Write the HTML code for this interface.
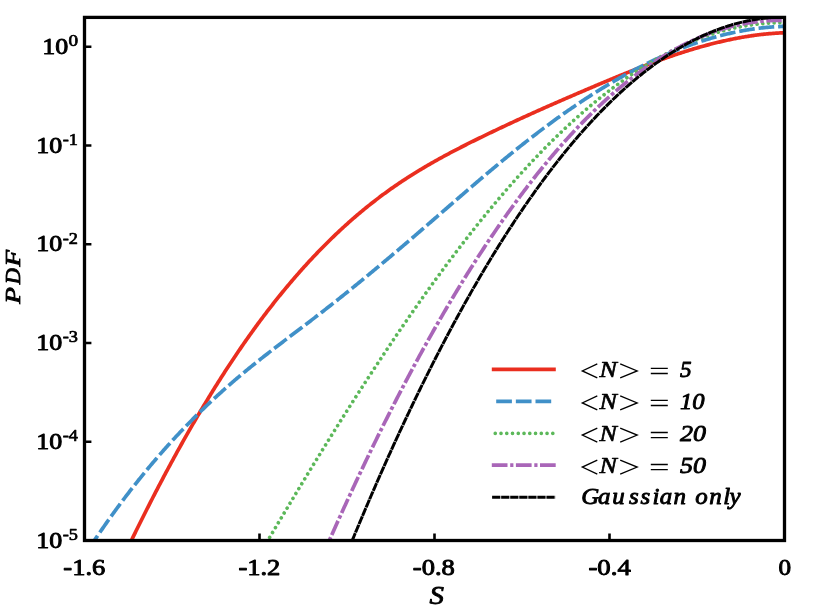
<!DOCTYPE html>
<html>
<head>
<meta charset="utf-8">
<title>PDF of S</title>
<style>
html,body{margin:0;padding:0;background:#fff;}
body{width:814px;height:610px;overflow:hidden;font-family:"Liberation Serif",serif;}
svg{display:block;will-change:transform;}
text{font-family:"Liberation Serif",serif;fill:#000;}
.tk{font-weight:normal;font-size:22.3px;stroke:#000;stroke-width:0.9px;stroke-linejoin:round;}
.sup{font-weight:normal;font-size:16.6px;stroke:#000;stroke-width:0.7px;stroke-linejoin:round;}
.lg{font-weight:normal;font-style:italic;font-size:22.3px;stroke:#000;stroke-width:0.85px;stroke-linejoin:round;}
.crv{fill:none;stroke-linejoin:round;}
</style>
</head>
<body>
<svg width="814" height="610" viewBox="0 0 814 610">
<rect x="0" y="0" width="814" height="610" fill="#ffffff"/>
<defs><clipPath id="ax"><rect x="84.5" y="17.4" width="700" height="523.1"/></clipPath></defs>
<g clip-path="url(#ax)">
<path class="crv" d="M129.0,545.42 L130.0,543.35 L131.0,541.29 L132.0,539.23 L133.0,537.18 L134.0,535.14 L135.0,533.10 L136.0,531.06 L137.0,529.03 L138.0,527.01 L139.0,524.99 L140.0,522.97 L141.0,520.96 L142.0,518.96 L143.0,516.96 L144.0,514.97 L145.0,512.98 L146.0,511.00 L147.0,509.02 L148.0,507.05 L149.0,505.09 L150.0,503.12 L151.0,501.17 L152.0,499.22 L153.0,497.27 L154.0,495.34 L155.0,493.40 L156.0,491.47 L157.0,489.55 L158.0,487.63 L159.0,485.72 L160.0,483.81 L161.0,481.91 L162.0,480.02 L163.0,478.12 L164.0,476.24 L165.0,474.36 L166.0,472.48 L167.0,470.62 L168.0,468.75 L169.0,466.89 L170.0,465.04 L171.0,463.19 L172.0,461.35 L173.0,459.52 L174.0,457.68 L175.0,455.86 L176.0,454.04 L177.0,452.22 L178.0,450.42 L179.0,448.61 L180.0,446.81 L181.0,445.02 L182.0,443.23 L183.0,441.45 L184.0,439.68 L185.0,437.90 L186.0,436.14 L187.0,434.38 L188.0,432.62 L189.0,430.88 L190.0,429.13 L191.0,427.39 L192.0,425.66 L193.0,423.94 L194.0,422.21 L195.0,420.50 L196.0,418.79 L197.0,417.08 L198.0,415.39 L199.0,413.69 L200.0,412.00 L201.0,410.32 L202.0,408.64 L203.0,406.97 L204.0,405.31 L205.0,403.65 L206.0,401.99 L207.0,400.34 L208.0,398.70 L209.0,397.06 L210.0,395.43 L211.0,393.80 L212.0,392.18 L213.0,390.57 L214.0,388.96 L215.0,387.35 L216.0,385.75 L217.0,384.16 L218.0,382.57 L219.0,380.99 L220.0,379.42 L221.0,377.84 L222.0,376.28 L223.0,374.72 L224.0,373.17 L225.0,371.62 L226.0,370.08 L227.0,368.54 L228.0,367.01 L229.0,365.48 L230.0,363.96 L231.0,362.45 L232.0,360.94 L233.0,359.44 L234.0,357.94 L235.0,356.45 L236.0,354.96 L237.0,353.48 L238.0,352.01 L239.0,350.54 L240.0,349.08 L241.0,347.62 L242.0,346.17 L243.0,344.72 L244.0,343.28 L245.0,341.85 L246.0,340.42 L247.0,339.00 L248.0,337.58 L249.0,336.17 L250.0,334.76 L251.0,333.36 L252.0,331.97 L253.0,330.58 L254.0,329.20 L255.0,327.82 L256.0,326.45 L257.0,325.08 L258.0,323.72 L259.0,322.37 L260.0,321.02 L261.0,319.68 L262.0,318.34 L263.0,317.01 L264.0,315.68 L265.0,314.36 L266.0,313.05 L267.0,311.74 L268.0,310.44 L269.0,309.14 L270.0,307.84 L271.0,306.56 L272.0,305.28 L273.0,304.00 L274.0,302.73 L275.0,301.46 L276.0,300.20 L277.0,298.95 L278.0,297.70 L279.0,296.46 L280.0,295.22 L281.0,293.99 L282.0,292.76 L283.0,291.54 L284.0,290.32 L285.0,289.11 L286.0,287.90 L287.0,286.70 L288.0,285.51 L289.0,284.32 L290.0,283.13 L291.0,281.96 L292.0,280.78 L293.0,279.61 L294.0,278.45 L295.0,277.29 L296.0,276.14 L297.0,274.99 L298.0,273.85 L299.0,272.71 L300.0,271.58 L301.0,270.45 L302.0,269.33 L303.0,268.22 L304.0,267.10 L305.0,266.00 L306.0,264.90 L307.0,263.80 L308.0,262.71 L309.0,261.62 L310.0,260.54 L311.0,259.47 L312.0,258.40 L313.0,257.33 L314.0,256.27 L315.0,255.22 L316.0,254.17 L317.0,253.12 L318.0,252.08 L319.0,251.05 L320.0,250.02 L321.0,248.99 L322.0,247.97 L323.0,246.95 L324.0,245.94 L325.0,244.94 L326.0,243.94 L327.0,242.94 L328.0,241.95 L329.0,240.96 L330.0,239.98 L331.0,239.01 L332.0,238.03 L333.0,237.07 L334.0,236.10 L335.0,235.15 L336.0,234.19 L337.0,233.25 L338.0,232.30 L339.0,231.37 L340.0,230.43 L341.0,229.50 L342.0,228.58 L343.0,227.66 L344.0,226.75 L345.0,225.84 L346.0,224.93 L347.0,224.03 L348.0,223.13 L349.0,222.24 L350.0,221.36 L351.0,220.47 L352.0,219.60 L353.0,218.72 L354.0,217.85 L355.0,216.99 L356.0,216.13 L357.0,215.28 L358.0,214.43 L359.0,213.58 L360.0,212.74 L361.0,211.90 L362.0,211.07 L363.0,210.24 L364.0,209.42 L365.0,208.60 L366.0,207.79 L367.0,206.98 L368.0,206.17 L369.0,205.37 L370.0,204.58 L371.0,203.78 L372.0,202.99 L373.0,202.21 L374.0,201.43 L375.0,200.66 L376.0,199.89 L377.0,199.12 L378.0,198.36 L379.0,197.60 L380.0,196.85 L381.0,196.10 L382.0,195.35 L383.0,194.61 L384.0,193.88 L385.0,193.15 L386.0,192.42 L387.0,191.69 L388.0,190.97 L389.0,190.26 L390.0,189.55 L391.0,188.84 L392.0,188.14 L393.0,187.44 L394.0,186.74 L395.0,186.05 L396.0,185.36 L397.0,184.68 L398.0,184.00 L399.0,183.32 L400.0,182.65 L401.0,181.98 L402.0,181.32 L403.0,180.66 L404.0,180.00 L405.0,179.34 L406.0,178.69 L407.0,178.04 L408.0,177.40 L409.0,176.76 L410.0,176.12 L411.0,175.49 L412.0,174.86 L413.0,174.23 L414.0,173.61 L415.0,172.99 L416.0,172.37 L417.0,171.75 L418.0,171.14 L419.0,170.53 L420.0,169.93 L421.0,169.33 L422.0,168.73 L423.0,168.13 L424.0,167.54 L425.0,166.94 L426.0,166.36 L427.0,165.77 L428.0,165.19 L429.0,164.61 L430.0,164.03 L431.0,163.46 L432.0,162.88 L433.0,162.31 L434.0,161.75 L435.0,161.18 L436.0,160.62 L437.0,160.06 L438.0,159.50 L439.0,158.95 L440.0,158.40 L441.0,157.85 L442.0,157.30 L443.0,156.75 L444.0,156.21 L445.0,155.67 L446.0,155.13 L447.0,154.59 L448.0,154.06 L449.0,153.52 L450.0,152.99 L451.0,152.46 L452.0,151.93 L453.0,151.41 L454.0,150.88 L455.0,150.36 L456.0,149.84 L457.0,149.32 L458.0,148.81 L459.0,148.29 L460.0,147.78 L461.0,147.26 L462.0,146.75 L463.0,146.24 L464.0,145.74 L465.0,145.23 L466.0,144.73 L467.0,144.22 L468.0,143.72 L469.0,143.22 L470.0,142.72 L471.0,142.22 L472.0,141.72 L473.0,141.23 L474.0,140.73 L475.0,140.24 L476.0,139.75 L477.0,139.25 L478.0,138.76 L479.0,138.27 L480.0,137.79 L481.0,137.30 L482.0,136.81 L483.0,136.32 L484.0,135.84 L485.0,135.35 L486.0,134.87 L487.0,134.39 L488.0,133.90 L489.0,133.42 L490.0,132.94 L491.0,132.46 L492.0,131.98 L493.0,131.51 L494.0,131.03 L495.0,130.55 L496.0,130.08 L497.0,129.60 L498.0,129.13 L499.0,128.65 L500.0,128.18 L501.0,127.71 L502.0,127.24 L503.0,126.77 L504.0,126.30 L505.0,125.83 L506.0,125.36 L507.0,124.89 L508.0,124.43 L509.0,123.96 L510.0,123.50 L511.0,123.03 L512.0,122.57 L513.0,122.10 L514.0,121.64 L515.0,121.18 L516.0,120.72 L517.0,120.26 L518.0,119.80 L519.0,119.34 L520.0,118.88 L521.0,118.42 L522.0,117.97 L523.0,117.51 L524.0,117.05 L525.0,116.60 L526.0,116.14 L527.0,115.69 L528.0,115.24 L529.0,114.78 L530.0,114.33 L531.0,113.88 L532.0,113.43 L533.0,112.98 L534.0,112.53 L535.0,112.08 L536.0,111.63 L537.0,111.18 L538.0,110.74 L539.0,110.29 L540.0,109.84 L541.0,109.40 L542.0,108.95 L543.0,108.51 L544.0,108.06 L545.0,107.62 L546.0,107.18 L547.0,106.73 L548.0,106.29 L549.0,105.85 L550.0,105.41 L551.0,104.97 L552.0,104.53 L553.0,104.09 L554.0,103.65 L555.0,103.21 L556.0,102.77 L557.0,102.34 L558.0,101.90 L559.0,101.46 L560.0,101.03 L561.0,100.59 L562.0,100.16 L563.0,99.72 L564.0,99.29 L565.0,98.85 L566.0,98.42 L567.0,97.99 L568.0,97.55 L569.0,97.12 L570.0,96.69 L571.0,96.26 L572.0,95.83 L573.0,95.39 L574.0,94.96 L575.0,94.53 L576.0,94.10 L577.0,93.67 L578.0,93.25 L579.0,92.82 L580.0,92.39 L581.0,91.96 L582.0,91.53 L583.0,91.11 L584.0,90.68 L585.0,90.25 L586.0,89.83 L587.0,89.40 L588.0,88.97 L589.0,88.55 L590.0,88.12 L591.0,87.70 L592.0,87.27 L593.0,86.85 L594.0,86.43 L595.0,86.00 L596.0,85.58 L597.0,85.16 L598.0,84.73 L599.0,84.31 L600.0,83.89 L601.0,83.47 L602.0,83.05 L603.0,82.63 L604.0,82.21 L605.0,81.79 L606.0,81.37 L607.0,80.95 L608.0,80.54 L609.0,80.12 L610.0,79.70 L611.0,79.29 L612.0,78.87 L613.0,78.46 L614.0,78.05 L615.0,77.63 L616.0,77.22 L617.0,76.81 L618.0,76.40 L619.0,75.99 L620.0,75.58 L621.0,75.18 L622.0,74.77 L623.0,74.36 L624.0,73.96 L625.0,73.55 L626.0,73.15 L627.0,72.75 L628.0,72.34 L629.0,71.94 L630.0,71.54 L631.0,71.15 L632.0,70.75 L633.0,70.35 L634.0,69.96 L635.0,69.56 L636.0,69.17 L637.0,68.77 L638.0,68.38 L639.0,67.99 L640.0,67.60 L641.0,67.22 L642.0,66.83 L643.0,66.45 L644.0,66.06 L645.0,65.68 L646.0,65.30 L647.0,64.92 L648.0,64.54 L649.0,64.16 L650.0,63.78 L651.0,63.41 L652.0,63.04 L653.0,62.66 L654.0,62.29 L655.0,61.92 L656.0,61.56 L657.0,61.19 L658.0,60.82 L659.0,60.46 L660.0,60.10 L661.0,59.74 L662.0,59.38 L663.0,59.02 L664.0,58.67 L665.0,58.31 L666.0,57.96 L667.0,57.61 L668.0,57.26 L669.0,56.91 L670.0,56.57 L671.0,56.22 L672.0,55.88 L673.0,55.54 L674.0,55.20 L675.0,54.86 L676.0,54.53 L677.0,54.20 L678.0,53.86 L679.0,53.53 L680.0,53.21 L681.0,52.88 L682.0,52.56 L683.0,52.23 L684.0,51.91 L685.0,51.60 L686.0,51.28 L687.0,50.97 L688.0,50.65 L689.0,50.34 L690.0,50.04 L691.0,49.73 L692.0,49.43 L693.0,49.12 L694.0,48.82 L695.0,48.53 L696.0,48.23 L697.0,47.94 L698.0,47.65 L699.0,47.36 L700.0,47.07 L701.0,46.79 L702.0,46.51 L703.0,46.23 L704.0,45.95 L705.0,45.67 L706.0,45.40 L707.0,45.13 L708.0,44.86 L709.0,44.60 L710.0,44.33 L711.0,44.07 L712.0,43.82 L713.0,43.56 L714.0,43.31 L715.0,43.06 L716.0,42.81 L717.0,42.56 L718.0,42.32 L719.0,42.08 L720.0,41.84 L721.0,41.60 L722.0,41.37 L723.0,41.14 L724.0,40.91 L725.0,40.69 L726.0,40.47 L727.0,40.25 L728.0,40.03 L729.0,39.82 L730.0,39.60 L731.0,39.40 L732.0,39.19 L733.0,38.99 L734.0,38.79 L735.0,38.59 L736.0,38.40 L737.0,38.20 L738.0,38.02 L739.0,37.83 L740.0,37.65 L741.0,37.47 L742.0,37.29 L743.0,37.12 L744.0,36.95 L745.0,36.78 L746.0,36.62 L747.0,36.45 L748.0,36.30 L749.0,36.14 L750.0,35.99 L751.0,35.84 L752.0,35.69 L753.0,35.55 L754.0,35.41 L755.0,35.27 L756.0,35.14 L757.0,35.01 L758.0,34.89 L759.0,34.76 L760.0,34.64 L761.0,34.53 L762.0,34.41 L763.0,34.30 L764.0,34.20 L765.0,34.09 L766.0,33.99 L767.0,33.90 L768.0,33.80 L769.0,33.71 L770.0,33.63 L771.0,33.55 L772.0,33.47 L773.0,33.39 L774.0,33.32 L775.0,33.25 L776.0,33.19 L777.0,33.13 L778.0,33.07 L779.0,33.02 L780.0,32.97 L781.0,32.92 L782.0,32.88 L783.0,32.84 L784.0,32.80 L785.0,32.77 L786.0,32.74" stroke="#ea2e1f" stroke-width="3.7"/>
<path class="crv" d="M90.8,545.86 L91.8,544.35 L92.8,542.84 L93.8,541.35 L94.8,539.86 L95.8,538.37 L96.8,536.89 L97.8,535.42 L98.8,533.95 L99.8,532.49 L100.8,531.03 L101.8,529.58 L102.8,528.14 L103.8,526.70 L104.8,525.27 L105.8,523.84 L106.8,522.42 L107.8,521.00 L108.8,519.59 L109.8,518.18 L110.8,516.78 L111.8,515.39 L112.8,514.00 L113.8,512.62 L114.8,511.24 L115.8,509.87 L116.8,508.50 L117.8,507.14 L118.8,505.79 L119.8,504.44 L120.8,503.09 L121.8,501.75 L122.8,500.42 L123.8,499.09 L124.8,497.76 L125.8,496.45 L126.8,495.13 L127.8,493.83 L128.8,492.52 L129.8,491.23 L130.8,489.93 L131.8,488.65 L132.8,487.37 L133.8,486.09 L134.8,484.82 L135.8,483.55 L136.8,482.29 L137.8,481.03 L138.8,479.78 L139.8,478.54 L140.8,477.29 L141.8,476.06 L142.8,474.83 L143.8,473.60 L144.8,472.38 L145.8,471.16 L146.8,469.95 L147.8,468.74 L148.8,467.54 L149.8,466.35 L150.8,465.15 L151.8,463.97 L152.8,462.78 L153.8,461.60 L154.8,460.43 L155.8,459.26 L156.8,458.10 L157.8,456.94 L158.8,455.79 L159.8,454.64 L160.8,453.49 L161.8,452.35 L162.8,451.21 L163.8,450.08 L164.8,448.96 L165.8,447.83 L166.8,446.72 L167.8,445.60 L168.8,444.49 L169.8,443.39 L170.8,442.29 L171.8,441.19 L172.8,440.10 L173.8,439.01 L174.8,437.93 L175.8,436.85 L176.8,435.78 L177.8,434.71 L178.8,433.64 L179.8,432.58 L180.8,431.53 L181.8,430.47 L182.8,429.43 L183.8,428.38 L184.8,427.34 L185.8,426.31 L186.8,425.27 L187.8,424.25 L188.8,423.22 L189.8,422.20 L190.8,421.19 L191.8,420.18 L192.8,419.17 L193.8,418.16 L194.8,417.17 L195.8,416.17 L196.8,415.18 L197.8,414.19 L198.8,413.21 L199.8,412.23 L200.8,411.25 L201.8,410.28 L202.8,409.31 L203.8,408.35 L204.8,407.38 L205.8,406.43 L206.8,405.47 L207.8,404.52 L208.8,403.58 L209.8,402.64 L210.8,401.70 L211.8,400.76 L212.8,399.83 L213.8,398.90 L214.8,397.98 L215.8,397.06 L216.8,396.14 L217.8,395.23 L218.8,394.32 L219.8,393.41 L220.8,392.51 L221.8,391.61 L222.8,390.71 L223.8,389.82 L224.8,388.93 L225.8,388.05 L226.8,387.16 L227.8,386.28 L228.8,385.41 L229.8,384.54 L230.8,383.67 L231.8,382.80 L232.8,381.94 L233.8,381.08 L234.8,380.22 L235.8,379.37 L236.8,378.52 L237.8,377.67 L238.8,376.83 L239.8,375.99 L240.8,375.15 L241.8,374.31 L242.8,373.48 L243.8,372.65 L244.8,371.82 L245.8,371.00 L246.8,370.18 L247.8,369.36 L248.8,368.54 L249.8,367.73 L250.8,366.92 L251.8,366.11 L252.8,365.30 L253.8,364.50 L254.8,363.70 L255.8,362.90 L256.8,362.10 L257.8,361.30 L258.8,360.51 L259.8,359.71 L260.8,358.92 L261.8,358.14 L262.8,357.35 L263.8,356.56 L264.8,355.78 L265.8,355.00 L266.8,354.22 L267.8,353.44 L268.8,352.66 L269.8,351.89 L270.8,351.11 L271.8,350.34 L272.8,349.57 L273.8,348.80 L274.8,348.03 L275.8,347.26 L276.8,346.49 L277.8,345.73 L278.8,344.96 L279.8,344.20 L280.8,343.44 L281.8,342.67 L282.8,341.91 L283.8,341.15 L284.8,340.39 L285.8,339.63 L286.8,338.87 L287.8,338.11 L288.8,337.35 L289.8,336.59 L290.8,335.84 L291.8,335.08 L292.8,334.32 L293.8,333.56 L294.8,332.81 L295.8,332.05 L296.8,331.29 L297.8,330.54 L298.8,329.78 L299.8,329.02 L300.8,328.26 L301.8,327.51 L302.8,326.75 L303.8,325.99 L304.8,325.23 L305.8,324.47 L306.8,323.71 L307.8,322.95 L308.8,322.19 L309.8,321.43 L310.8,320.67 L311.8,319.90 L312.8,319.14 L313.8,318.37 L314.8,317.61 L315.8,316.84 L316.8,316.07 L317.8,315.31 L318.8,314.54 L319.8,313.76 L320.8,312.99 L321.8,312.22 L322.8,311.44 L323.8,310.67 L324.8,309.89 L325.8,309.11 L326.8,308.33 L327.8,307.55 L328.8,306.77 L329.8,305.99 L330.8,305.20 L331.8,304.41 L332.8,303.63 L333.8,302.84 L334.8,302.05 L335.8,301.26 L336.8,300.47 L337.8,299.68 L338.8,298.88 L339.8,298.09 L340.8,297.29 L341.8,296.49 L342.8,295.70 L343.8,294.90 L344.8,294.10 L345.8,293.29 L346.8,292.49 L347.8,291.69 L348.8,290.88 L349.8,290.08 L350.8,289.27 L351.8,288.46 L352.8,287.65 L353.8,286.84 L354.8,286.03 L355.8,285.22 L356.8,284.41 L357.8,283.60 L358.8,282.78 L359.8,281.96 L360.8,281.15 L361.8,280.33 L362.8,279.51 L363.8,278.69 L364.8,277.87 L365.8,277.05 L366.8,276.23 L367.8,275.40 L368.8,274.58 L369.8,273.75 L370.8,272.93 L371.8,272.10 L372.8,271.27 L373.8,270.44 L374.8,269.61 L375.8,268.78 L376.8,267.95 L377.8,267.12 L378.8,266.29 L379.8,265.45 L380.8,264.62 L381.8,263.78 L382.8,262.95 L383.8,262.11 L384.8,261.27 L385.8,260.43 L386.8,259.59 L387.8,258.75 L388.8,257.91 L389.8,257.07 L390.8,256.23 L391.8,255.38 L392.8,254.54 L393.8,253.69 L394.8,252.85 L395.8,252.00 L396.8,251.15 L397.8,250.31 L398.8,249.46 L399.8,248.61 L400.8,247.76 L401.8,246.91 L402.8,246.06 L403.8,245.21 L404.8,244.35 L405.8,243.50 L406.8,242.65 L407.8,241.79 L408.8,240.94 L409.8,240.08 L410.8,239.22 L411.8,238.37 L412.8,237.51 L413.8,236.65 L414.8,235.79 L415.8,234.93 L416.8,234.07 L417.8,233.21 L418.8,232.35 L419.8,231.49 L420.8,230.63 L421.8,229.76 L422.8,228.90 L423.8,228.04 L424.8,227.17 L425.8,226.31 L426.8,225.44 L427.8,224.58 L428.8,223.71 L429.8,222.85 L430.8,221.98 L431.8,221.12 L432.8,220.25 L433.8,219.38 L434.8,218.52 L435.8,217.65 L436.8,216.78 L437.8,215.92 L438.8,215.05 L439.8,214.18 L440.8,213.32 L441.8,212.45 L442.8,211.58 L443.8,210.71 L444.8,209.85 L445.8,208.98 L446.8,208.11 L447.8,207.25 L448.8,206.38 L449.8,205.51 L450.8,204.65 L451.8,203.78 L452.8,202.92 L453.8,202.05 L454.8,201.18 L455.8,200.32 L456.8,199.45 L457.8,198.59 L458.8,197.73 L459.8,196.86 L460.8,196.00 L461.8,195.14 L462.8,194.28 L463.8,193.41 L464.8,192.55 L465.8,191.69 L466.8,190.83 L467.8,189.97 L468.8,189.11 L469.8,188.26 L470.8,187.40 L471.8,186.54 L472.8,185.69 L473.8,184.83 L474.8,183.98 L475.8,183.12 L476.8,182.27 L477.8,181.42 L478.8,180.56 L479.8,179.71 L480.8,178.86 L481.8,178.02 L482.8,177.17 L483.8,176.32 L484.8,175.48 L485.8,174.63 L486.8,173.79 L487.8,172.94 L488.8,172.10 L489.8,171.26 L490.8,170.42 L491.8,169.58 L492.8,168.75 L493.8,167.91 L494.8,167.08 L495.8,166.24 L496.8,165.41 L497.8,164.58 L498.8,163.75 L499.8,162.92 L500.8,162.09 L501.8,161.27 L502.8,160.44 L503.8,159.62 L504.8,158.80 L505.8,157.98 L506.8,157.16 L507.8,156.34 L508.8,155.53 L509.8,154.71 L510.8,153.90 L511.8,153.09 L512.8,152.28 L513.8,151.47 L514.8,150.67 L515.8,149.86 L516.8,149.06 L517.8,148.26 L518.8,147.46 L519.8,146.66 L520.8,145.87 L521.8,145.07 L522.8,144.28 L523.8,143.49 L524.8,142.71 L525.8,141.92 L526.8,141.13 L527.8,140.35 L528.8,139.57 L529.8,138.79 L530.8,138.02 L531.8,137.24 L532.8,136.47 L533.8,135.70 L534.8,134.93 L535.8,134.17 L536.8,133.41 L537.8,132.64 L538.8,131.88 L539.8,131.13 L540.8,130.37 L541.8,129.62 L542.8,128.87 L543.8,128.12 L544.8,127.37 L545.8,126.63 L546.8,125.88 L547.8,125.14 L548.8,124.41 L549.8,123.67 L550.8,122.94 L551.8,122.20 L552.8,121.47 L553.8,120.75 L554.8,120.02 L555.8,119.30 L556.8,118.58 L557.8,117.86 L558.8,117.14 L559.8,116.43 L560.8,115.72 L561.8,115.01 L562.8,114.30 L563.8,113.59 L564.8,112.89 L565.8,112.19 L566.8,111.49 L567.8,110.80 L568.8,110.10 L569.8,109.41 L570.8,108.72 L571.8,108.03 L572.8,107.35 L573.8,106.67 L574.8,105.99 L575.8,105.31 L576.8,104.63 L577.8,103.96 L578.8,103.29 L579.8,102.62 L580.8,101.96 L581.8,101.29 L582.8,100.63 L583.8,99.97 L584.8,99.32 L585.8,98.66 L586.8,98.01 L587.8,97.36 L588.8,96.71 L589.8,96.07 L590.8,95.43 L591.8,94.79 L592.8,94.15 L593.8,93.52 L594.8,92.88 L595.8,92.26 L596.8,91.63 L597.8,91.00 L598.8,90.38 L599.8,89.76 L600.8,89.14 L601.8,88.53 L602.8,87.92 L603.8,87.31 L604.8,86.70 L605.8,86.10 L606.8,85.49 L607.8,84.89 L608.8,84.30 L609.8,83.70 L610.8,83.11 L611.8,82.52 L612.8,81.93 L613.8,81.35 L614.8,80.77 L615.8,80.19 L616.8,79.61 L617.8,79.04 L618.8,78.47 L619.8,77.90 L620.8,77.34 L621.8,76.77 L622.8,76.21 L623.8,75.66 L624.8,75.10 L625.8,74.55 L626.8,74.00 L627.8,73.45 L628.8,72.91 L629.8,72.37 L630.8,71.83 L631.8,71.29 L632.8,70.76 L633.8,70.23 L634.8,69.70 L635.8,69.18 L636.8,68.66 L637.8,68.14 L638.8,67.62 L639.8,67.11 L640.8,66.60 L641.8,66.09 L642.8,65.58 L643.8,65.08 L644.8,64.58 L645.8,64.08 L646.8,63.59 L647.8,63.10 L648.8,62.61 L649.8,62.13 L650.8,61.65 L651.8,61.17 L652.8,60.69 L653.8,60.22 L654.8,59.75 L655.8,59.28 L656.8,58.81 L657.8,58.35 L658.8,57.89 L659.8,57.44 L660.8,56.98 L661.8,56.53 L662.8,56.09 L663.8,55.64 L664.8,55.20 L665.8,54.77 L666.8,54.33 L667.8,53.90 L668.8,53.47 L669.8,53.04 L670.8,52.62 L671.8,52.20 L672.8,51.79 L673.8,51.37 L674.8,50.96 L675.8,50.55 L676.8,50.15 L677.8,49.75 L678.8,49.35 L679.8,48.96 L680.8,48.56 L681.8,48.18 L682.8,47.79 L683.8,47.41 L684.8,47.03 L685.8,46.65 L686.8,46.28 L687.8,45.91 L688.8,45.54 L689.8,45.18 L690.8,44.82 L691.8,44.46 L692.8,44.11 L693.8,43.76 L694.8,43.41 L695.8,43.07 L696.8,42.73 L697.8,42.39 L698.8,42.05 L699.8,41.72 L700.8,41.40 L701.8,41.07 L702.8,40.75 L703.8,40.43 L704.8,40.12 L705.8,39.81 L706.8,39.50 L707.8,39.19 L708.8,38.89 L709.8,38.60 L710.8,38.30 L711.8,38.01 L712.8,37.72 L713.8,37.44 L714.8,37.16 L715.8,36.88 L716.8,36.61 L717.8,36.33 L718.8,36.07 L719.8,35.80 L720.8,35.54 L721.8,35.29 L722.8,35.03 L723.8,34.78 L724.8,34.54 L725.8,34.29 L726.8,34.05 L727.8,33.82 L728.8,33.58 L729.8,33.36 L730.8,33.13 L731.8,32.91 L732.8,32.69 L733.8,32.47 L734.8,32.26 L735.8,32.05 L736.8,31.85 L737.8,31.65 L738.8,31.45 L739.8,31.26 L740.8,31.07 L741.8,30.88 L742.8,30.70 L743.8,30.52 L744.8,30.34 L745.8,30.17 L746.8,30.00 L747.8,29.84 L748.8,29.68 L749.8,29.52 L750.8,29.37 L751.8,29.22 L752.8,29.07 L753.8,28.93 L754.8,28.79 L755.8,28.65 L756.8,28.52 L757.8,28.39 L758.8,28.27 L759.8,28.15 L760.8,28.03 L761.8,27.92 L762.8,27.81 L763.8,27.70 L764.8,27.60 L765.8,27.50 L766.8,27.41 L767.8,27.32 L768.8,27.23 L769.8,27.15 L770.8,27.07 L771.8,27.00 L772.8,26.93 L773.8,26.86 L774.8,26.80 L775.8,26.74 L776.8,26.68 L777.8,26.63 L778.8,26.58 L779.8,26.54 L780.8,26.50 L781.8,26.46 L782.8,26.43 L783.8,26.40 L784.8,26.37 L785.8,26.35" stroke="#4090c8" stroke-width="3.7" stroke-dasharray="15.692 3.9" stroke-dashoffset="3.444"/>
<path class="crv" d="M264.7,545.82 L265.7,544.12 L266.7,542.43 L267.7,540.74 L268.7,539.04 L269.7,537.35 L270.7,535.66 L271.7,533.98 L272.7,532.29 L273.7,530.60 L274.7,528.92 L275.7,527.23 L276.7,525.55 L277.7,523.87 L278.7,522.19 L279.7,520.51 L280.7,518.83 L281.7,517.15 L282.7,515.48 L283.7,513.80 L284.7,512.13 L285.7,510.46 L286.7,508.79 L287.7,507.12 L288.7,505.45 L289.7,503.78 L290.7,502.12 L291.7,500.45 L292.7,498.79 L293.7,497.13 L294.7,495.47 L295.7,493.81 L296.7,492.15 L297.7,490.49 L298.7,488.84 L299.7,487.19 L300.7,485.53 L301.7,483.88 L302.7,482.23 L303.7,480.59 L304.7,478.94 L305.7,477.30 L306.7,475.65 L307.7,474.01 L308.7,472.37 L309.7,470.73 L310.7,469.09 L311.7,467.46 L312.7,465.82 L313.7,464.19 L314.7,462.56 L315.7,460.93 L316.7,459.30 L317.7,457.67 L318.7,456.05 L319.7,454.42 L320.7,452.80 L321.7,451.18 L322.7,449.56 L323.7,447.95 L324.7,446.33 L325.7,444.72 L326.7,443.10 L327.7,441.49 L328.7,439.88 L329.7,438.28 L330.7,436.67 L331.7,435.07 L332.7,433.46 L333.7,431.86 L334.7,430.27 L335.7,428.67 L336.7,427.07 L337.7,425.48 L338.7,423.89 L339.7,422.30 L340.7,420.71 L341.7,419.12 L342.7,417.54 L343.7,415.96 L344.7,414.38 L345.7,412.80 L346.7,411.22 L347.7,409.65 L348.7,408.07 L349.7,406.50 L350.7,404.93 L351.7,403.36 L352.7,401.80 L353.7,400.23 L354.7,398.67 L355.7,397.11 L356.7,395.55 L357.7,394.00 L358.7,392.44 L359.7,390.89 L360.7,389.34 L361.7,387.79 L362.7,386.25 L363.7,384.70 L364.7,383.16 L365.7,381.62 L366.7,380.08 L367.7,378.55 L368.7,377.01 L369.7,375.48 L370.7,373.95 L371.7,372.42 L372.7,370.90 L373.7,369.37 L374.7,367.85 L375.7,366.33 L376.7,364.82 L377.7,363.30 L378.7,361.79 L379.7,360.28 L380.7,358.77 L381.7,357.26 L382.7,355.76 L383.7,354.26 L384.7,352.76 L385.7,351.26 L386.7,349.77 L387.7,348.27 L388.7,346.78 L389.7,345.29 L390.7,343.81 L391.7,342.32 L392.7,340.84 L393.7,339.36 L394.7,337.89 L395.7,336.41 L396.7,334.94 L397.7,333.47 L398.7,332.00 L399.7,330.54 L400.7,329.08 L401.7,327.62 L402.7,326.16 L403.7,324.70 L404.7,323.25 L405.7,321.80 L406.7,320.35 L407.7,318.90 L408.7,317.46 L409.7,316.02 L410.7,314.58 L411.7,313.15 L412.7,311.71 L413.7,310.28 L414.7,308.85 L415.7,307.43 L416.7,306.01 L417.7,304.59 L418.7,303.17 L419.7,301.75 L420.7,300.34 L421.7,298.93 L422.7,297.52 L423.7,296.12 L424.7,294.71 L425.7,293.31 L426.7,291.92 L427.7,290.52 L428.7,289.13 L429.7,287.74 L430.7,286.35 L431.7,284.97 L432.7,283.59 L433.7,282.21 L434.7,280.83 L435.7,279.46 L436.7,278.09 L437.7,276.72 L438.7,275.36 L439.7,274.00 L440.7,272.64 L441.7,271.28 L442.7,269.93 L443.7,268.58 L444.7,267.23 L445.7,265.88 L446.7,264.54 L447.7,263.20 L448.7,261.86 L449.7,260.53 L450.7,259.20 L451.7,257.87 L452.7,256.55 L453.7,255.22 L454.7,253.90 L455.7,252.59 L456.7,251.27 L457.7,249.96 L458.7,248.66 L459.7,247.35 L460.7,246.05 L461.7,244.75 L462.7,243.45 L463.7,242.16 L464.7,240.87 L465.7,239.59 L466.7,238.30 L467.7,237.02 L468.7,235.74 L469.7,234.47 L470.7,233.20 L471.7,231.93 L472.7,230.66 L473.7,229.40 L474.7,228.14 L475.7,226.89 L476.7,225.63 L477.7,224.38 L478.7,223.14 L479.7,221.89 L480.7,220.65 L481.7,219.42 L482.7,218.18 L483.7,216.95 L484.7,215.73 L485.7,214.50 L486.7,213.28 L487.7,212.06 L488.7,210.85 L489.7,209.64 L490.7,208.43 L491.7,207.22 L492.7,206.02 L493.7,204.82 L494.7,203.63 L495.7,202.44 L496.7,201.25 L497.7,200.06 L498.7,198.88 L499.7,197.70 L500.7,196.53 L501.7,195.36 L502.7,194.19 L503.7,193.03 L504.7,191.86 L505.7,190.71 L506.7,189.55 L507.7,188.40 L508.7,187.25 L509.7,186.11 L510.7,184.97 L511.7,183.83 L512.7,182.70 L513.7,181.57 L514.7,180.44 L515.7,179.32 L516.7,178.20 L517.7,177.08 L518.7,175.97 L519.7,174.86 L520.7,173.76 L521.7,172.65 L522.7,171.56 L523.7,170.46 L524.7,169.37 L525.7,168.28 L526.7,167.20 L527.7,166.12 L528.7,165.04 L529.7,163.97 L530.7,162.90 L531.7,161.83 L532.7,160.77 L533.7,159.71 L534.7,158.66 L535.7,157.61 L536.7,156.56 L537.7,155.52 L538.7,154.48 L539.7,153.44 L540.7,152.41 L541.7,151.38 L542.7,150.35 L543.7,149.33 L544.7,148.31 L545.7,147.30 L546.7,146.29 L547.7,145.28 L548.7,144.28 L549.7,143.28 L550.7,142.28 L551.7,141.29 L552.7,140.30 L553.7,139.32 L554.7,138.34 L555.7,137.36 L556.7,136.39 L557.7,135.42 L558.7,134.46 L559.7,133.49 L560.7,132.54 L561.7,131.58 L562.7,130.63 L563.7,129.68 L564.7,128.74 L565.7,127.80 L566.7,126.87 L567.7,125.94 L568.7,125.01 L569.7,124.09 L570.7,123.17 L571.7,122.25 L572.7,121.34 L573.7,120.43 L574.7,119.53 L575.7,118.62 L576.7,117.73 L577.7,116.84 L578.7,115.95 L579.7,115.06 L580.7,114.18 L581.7,113.30 L582.7,112.43 L583.7,111.56 L584.7,110.69 L585.7,109.83 L586.7,108.98 L587.7,108.12 L588.7,107.27 L589.7,106.43 L590.7,105.58 L591.7,104.75 L592.7,103.91 L593.7,103.08 L594.7,102.26 L595.7,101.43 L596.7,100.61 L597.7,99.80 L598.7,98.99 L599.7,98.18 L600.7,97.38 L601.7,96.58 L602.7,95.79 L603.7,95.00 L604.7,94.21 L605.7,93.43 L606.7,92.65 L607.7,91.88 L608.7,91.11 L609.7,90.34 L610.7,89.58 L611.7,88.82 L612.7,88.07 L613.7,87.32 L614.7,86.57 L615.7,85.83 L616.7,85.09 L617.7,84.36 L618.7,83.63 L619.7,82.90 L620.7,82.18 L621.7,81.46 L622.7,80.75 L623.7,80.04 L624.7,79.33 L625.7,78.63 L626.7,77.94 L627.7,77.24 L628.7,76.55 L629.7,75.87 L630.7,75.19 L631.7,74.51 L632.7,73.84 L633.7,73.17 L634.7,72.51 L635.7,71.85 L636.7,71.19 L637.7,70.54 L638.7,69.89 L639.7,69.25 L640.7,68.61 L641.7,67.98 L642.7,67.35 L643.7,66.72 L644.7,66.10 L645.7,65.48 L646.7,64.87 L647.7,64.26 L648.7,63.65 L649.7,63.05 L650.7,62.46 L651.7,61.86 L652.7,61.27 L653.7,60.69 L654.7,60.11 L655.7,59.54 L656.7,58.96 L657.7,58.40 L658.7,57.83 L659.7,57.28 L660.7,56.72 L661.7,56.17 L662.7,55.63 L663.7,55.09 L664.7,54.55 L665.7,54.02 L666.7,53.49 L667.7,52.96 L668.7,52.44 L669.7,51.93 L670.7,51.42 L671.7,50.91 L672.7,50.41 L673.7,49.91 L674.7,49.42 L675.7,48.93 L676.7,48.44 L677.7,47.96 L678.7,47.49 L679.7,47.02 L680.7,46.55 L681.7,46.08 L682.7,45.63 L683.7,45.17 L684.7,44.72 L685.7,44.28 L686.7,43.84 L687.7,43.40 L688.7,42.97 L689.7,42.54 L690.7,42.12 L691.7,41.70 L692.7,41.28 L693.7,40.87 L694.7,40.47 L695.7,40.07 L696.7,39.67 L697.7,39.28 L698.7,38.89 L699.7,38.51 L700.7,38.13 L701.7,37.75 L702.7,37.39 L703.7,37.02 L704.7,36.66 L705.7,36.30 L706.7,35.95 L707.7,35.60 L708.7,35.26 L709.7,34.92 L710.7,34.59 L711.7,34.26 L712.7,33.94 L713.7,33.62 L714.7,33.30 L715.7,32.99 L716.7,32.68 L717.7,32.38 L718.7,32.09 L719.7,31.79 L720.7,31.51 L721.7,31.22 L722.7,30.94 L723.7,30.67 L724.7,30.40 L725.7,30.13 L726.7,29.87 L727.7,29.62 L728.7,29.37 L729.7,29.12 L730.7,28.88 L731.7,28.64 L732.7,28.41 L733.7,28.18 L734.7,27.96 L735.7,27.74 L736.7,27.53 L737.7,27.32 L738.7,27.11 L739.7,26.91 L740.7,26.72 L741.7,26.53 L742.7,26.34 L743.7,26.16 L744.7,25.98 L745.7,25.81 L746.7,25.64 L747.7,25.48 L748.7,25.33 L749.7,25.17 L750.7,25.02 L751.7,24.88 L752.7,24.74 L753.7,24.61 L754.7,24.48 L755.7,24.35 L756.7,24.24 L757.7,24.12 L758.7,24.01 L759.7,23.91 L760.7,23.80 L761.7,23.71 L762.7,23.62 L763.7,23.53 L764.7,23.45 L765.7,23.37 L766.7,23.30 L767.7,23.24 L768.7,23.17 L769.7,23.12 L770.7,23.06 L771.7,23.02 L772.7,22.97 L773.7,22.94 L774.7,22.90 L775.7,22.87 L776.7,22.85 L777.7,22.83 L778.7,22.82 L779.7,22.81 L780.7,22.81 L781.7,22.81 L782.7,22.81 L783.7,22.82 L784.7,22.84 L785.7,22.86" stroke="#5cb85a" stroke-width="3.65" stroke-linecap="round" stroke-dasharray="0.01 5.680" stroke-dashoffset="1.647"/>
<path class="crv" d="M327.3,545.00 L328.3,542.73 L329.3,540.47 L330.3,538.21 L331.3,535.96 L332.3,533.71 L333.3,531.47 L334.3,529.23 L335.3,526.99 L336.3,524.76 L337.3,522.54 L338.3,520.32 L339.3,518.10 L340.3,515.89 L341.3,513.68 L342.3,511.48 L343.3,509.29 L344.3,507.09 L345.3,504.91 L346.3,502.72 L347.3,500.55 L348.3,498.37 L349.3,496.20 L350.3,494.04 L351.3,491.88 L352.3,489.73 L353.3,487.58 L354.3,485.43 L355.3,483.29 L356.3,481.16 L357.3,479.03 L358.3,476.90 L359.3,474.78 L360.3,472.66 L361.3,470.55 L362.3,468.44 L363.3,466.34 L364.3,464.24 L365.3,462.15 L366.3,460.06 L367.3,457.98 L368.3,455.90 L369.3,453.83 L370.3,451.76 L371.3,449.69 L372.3,447.63 L373.3,445.58 L374.3,443.53 L375.3,441.48 L376.3,439.44 L377.3,437.41 L378.3,435.37 L379.3,433.35 L380.3,431.33 L381.3,429.31 L382.3,427.30 L383.3,425.29 L384.3,423.29 L385.3,421.29 L386.3,419.30 L387.3,417.31 L388.3,415.33 L389.3,413.35 L390.3,411.37 L391.3,409.40 L392.3,407.44 L393.3,405.48 L394.3,403.52 L395.3,401.57 L396.3,399.63 L397.3,397.69 L398.3,395.75 L399.3,393.82 L400.3,391.90 L401.3,389.98 L402.3,388.06 L403.3,386.15 L404.3,384.24 L405.3,382.34 L406.3,380.44 L407.3,378.55 L408.3,376.66 L409.3,374.78 L410.3,372.90 L411.3,371.03 L412.3,369.16 L413.3,367.29 L414.3,365.44 L415.3,363.58 L416.3,361.73 L417.3,359.89 L418.3,358.05 L419.3,356.21 L420.3,354.38 L421.3,352.56 L422.3,350.74 L423.3,348.92 L424.3,347.11 L425.3,345.31 L426.3,343.51 L427.3,341.71 L428.3,339.92 L429.3,338.13 L430.3,336.35 L431.3,334.57 L432.3,332.80 L433.3,331.03 L434.3,329.27 L435.3,327.51 L436.3,325.76 L437.3,324.01 L438.3,322.27 L439.3,320.53 L440.3,318.80 L441.3,317.07 L442.3,315.35 L443.3,313.63 L444.3,311.92 L445.3,310.21 L446.3,308.50 L447.3,306.80 L448.3,305.11 L449.3,303.42 L450.3,301.73 L451.3,300.06 L452.3,298.38 L453.3,296.71 L454.3,295.05 L455.3,293.38 L456.3,291.73 L457.3,290.08 L458.3,288.43 L459.3,286.79 L460.3,285.16 L461.3,283.53 L462.3,281.90 L463.3,280.28 L464.3,278.66 L465.3,277.05 L466.3,275.44 L467.3,273.84 L468.3,272.25 L469.3,270.65 L470.3,269.07 L471.3,267.48 L472.3,265.91 L473.3,264.33 L474.3,262.77 L475.3,261.20 L476.3,259.65 L477.3,258.09 L478.3,256.55 L479.3,255.00 L480.3,253.47 L481.3,251.93 L482.3,250.40 L483.3,248.88 L484.3,247.36 L485.3,245.85 L486.3,244.34 L487.3,242.84 L488.3,241.34 L489.3,239.84 L490.3,238.36 L491.3,236.87 L492.3,235.39 L493.3,233.92 L494.3,232.45 L495.3,230.99 L496.3,229.53 L497.3,228.07 L498.3,226.62 L499.3,225.18 L500.3,223.74 L501.3,222.30 L502.3,220.87 L503.3,219.45 L504.3,218.03 L505.3,216.62 L506.3,215.21 L507.3,213.80 L508.3,212.40 L509.3,211.01 L510.3,209.62 L511.3,208.23 L512.3,206.85 L513.3,205.48 L514.3,204.11 L515.3,202.74 L516.3,201.38 L517.3,200.02 L518.3,198.67 L519.3,197.33 L520.3,195.99 L521.3,194.65 L522.3,193.32 L523.3,192.00 L524.3,190.68 L525.3,189.36 L526.3,188.05 L527.3,186.74 L528.3,185.44 L529.3,184.15 L530.3,182.86 L531.3,181.57 L532.3,180.29 L533.3,179.01 L534.3,177.74 L535.3,176.48 L536.3,175.22 L537.3,173.96 L538.3,172.71 L539.3,171.47 L540.3,170.22 L541.3,168.99 L542.3,167.76 L543.3,166.53 L544.3,165.31 L545.3,164.10 L546.3,162.88 L547.3,161.68 L548.3,160.48 L549.3,159.28 L550.3,158.09 L551.3,156.91 L552.3,155.73 L553.3,154.55 L554.3,153.38 L555.3,152.21 L556.3,151.05 L557.3,149.90 L558.3,148.75 L559.3,147.60 L560.3,146.46 L561.3,145.32 L562.3,144.19 L563.3,143.07 L564.3,141.95 L565.3,140.83 L566.3,139.72 L567.3,138.62 L568.3,137.52 L569.3,136.42 L570.3,135.33 L571.3,134.25 L572.3,133.17 L573.3,132.09 L574.3,131.02 L575.3,129.96 L576.3,128.90 L577.3,127.84 L578.3,126.79 L579.3,125.75 L580.3,124.71 L581.3,123.67 L582.3,122.64 L583.3,121.62 L584.3,120.60 L585.3,119.58 L586.3,118.57 L587.3,117.57 L588.3,116.57 L589.3,115.58 L590.3,114.59 L591.3,113.60 L592.3,112.62 L593.3,111.65 L594.3,110.68 L595.3,109.72 L596.3,108.76 L597.3,107.81 L598.3,106.86 L599.3,105.91 L600.3,104.98 L601.3,104.04 L602.3,103.11 L603.3,102.19 L604.3,101.27 L605.3,100.36 L606.3,99.45 L607.3,98.55 L608.3,97.65 L609.3,96.76 L610.3,95.87 L611.3,94.99 L612.3,94.11 L613.3,93.24 L614.3,92.37 L615.3,91.51 L616.3,90.66 L617.3,89.80 L618.3,88.96 L619.3,88.12 L620.3,87.28 L621.3,86.45 L622.3,85.62 L623.3,84.80 L624.3,83.99 L625.3,83.17 L626.3,82.37 L627.3,81.57 L628.3,80.77 L629.3,79.98 L630.3,79.20 L631.3,78.42 L632.3,77.64 L633.3,76.87 L634.3,76.11 L635.3,75.35 L636.3,74.60 L637.3,73.85 L638.3,73.10 L639.3,72.36 L640.3,71.63 L641.3,70.90 L642.3,70.18 L643.3,69.46 L644.3,68.75 L645.3,68.04 L646.3,67.34 L647.3,66.64 L648.3,65.95 L649.3,65.26 L650.3,64.58 L651.3,63.90 L652.3,63.23 L653.3,62.56 L654.3,61.90 L655.3,61.24 L656.3,60.59 L657.3,59.94 L658.3,59.30 L659.3,58.67 L660.3,58.04 L661.3,57.41 L662.3,56.79 L663.3,56.18 L664.3,55.57 L665.3,54.96 L666.3,54.36 L667.3,53.77 L668.3,53.18 L669.3,52.60 L670.3,52.02 L671.3,51.44 L672.3,50.87 L673.3,50.31 L674.3,49.75 L675.3,49.20 L676.3,48.65 L677.3,48.11 L678.3,47.57 L679.3,47.04 L680.3,46.51 L681.3,45.99 L682.3,45.48 L683.3,44.97 L684.3,44.46 L685.3,43.96 L686.3,43.46 L687.3,42.97 L688.3,42.49 L689.3,42.01 L690.3,41.53 L691.3,41.06 L692.3,40.60 L693.3,40.14 L694.3,39.69 L695.3,39.24 L696.3,38.79 L697.3,38.36 L698.3,37.92 L699.3,37.50 L700.3,37.07 L701.3,36.66 L702.3,36.24 L703.3,35.84 L704.3,35.44 L705.3,35.04 L706.3,34.65 L707.3,34.26 L708.3,33.88 L709.3,33.51 L710.3,33.14 L711.3,32.77 L712.3,32.41 L713.3,32.06 L714.3,31.71 L715.3,31.36 L716.3,31.03 L717.3,30.69 L718.3,30.37 L719.3,30.04 L720.3,29.72 L721.3,29.41 L722.3,29.11 L723.3,28.80 L724.3,28.51 L725.3,28.22 L726.3,27.93 L727.3,27.65 L728.3,27.37 L729.3,27.10 L730.3,26.84 L731.3,26.58 L732.3,26.33 L733.3,26.08 L734.3,25.83 L735.3,25.59 L736.3,25.36 L737.3,25.13 L738.3,24.91 L739.3,24.69 L740.3,24.48 L741.3,24.27 L742.3,24.07 L743.3,23.88 L744.3,23.69 L745.3,23.50 L746.3,23.32 L747.3,23.15 L748.3,22.98 L749.3,22.81 L750.3,22.65 L751.3,22.50 L752.3,22.35 L753.3,22.21 L754.3,22.07 L755.3,21.94 L756.3,21.81 L757.3,21.69 L758.3,21.57 L759.3,21.46 L760.3,21.35 L761.3,21.25 L762.3,21.16 L763.3,21.07 L764.3,20.98 L765.3,20.90 L766.3,20.83 L767.3,20.76 L768.3,20.70 L769.3,20.64 L770.3,20.59 L771.3,20.54 L772.3,20.50 L773.3,20.46 L774.3,20.43 L775.3,20.40 L776.3,20.38 L777.3,20.37 L778.3,20.36 L779.3,20.35 L780.3,20.35 L781.3,20.36 L782.3,20.37 L783.3,20.39 L784.3,20.41 L785.3,20.44" stroke="#a966b8" stroke-width="3.7" stroke-dasharray="15.430 2.55 3.6 2.55" stroke-dashoffset="13.152"/>
<path class="crv" d="M350.0,545.89 L351.0,543.46 L352.0,541.04 L353.0,538.62 L354.0,536.20 L355.0,533.79 L356.0,531.39 L357.0,528.99 L358.0,526.60 L359.0,524.21 L360.0,521.83 L361.0,519.46 L362.0,517.09 L363.0,514.72 L364.0,512.36 L365.0,510.01 L366.0,507.66 L367.0,505.32 L368.0,502.99 L369.0,500.66 L370.0,498.33 L371.0,496.01 L372.0,493.70 L373.0,491.39 L374.0,489.09 L375.0,486.79 L376.0,484.50 L377.0,482.21 L378.0,479.93 L379.0,477.66 L380.0,475.39 L381.0,473.13 L382.0,470.87 L383.0,468.62 L384.0,466.37 L385.0,464.13 L386.0,461.90 L387.0,459.67 L388.0,457.44 L389.0,455.22 L390.0,453.01 L391.0,450.80 L392.0,448.60 L393.0,446.41 L394.0,444.22 L395.0,442.03 L396.0,439.85 L397.0,437.68 L398.0,435.51 L399.0,433.35 L400.0,431.19 L401.0,429.04 L402.0,426.89 L403.0,424.75 L404.0,422.62 L405.0,420.49 L406.0,418.37 L407.0,416.25 L408.0,414.14 L409.0,412.03 L410.0,409.93 L411.0,407.84 L412.0,405.75 L413.0,403.66 L414.0,401.58 L415.0,399.51 L416.0,397.44 L417.0,395.38 L418.0,393.33 L419.0,391.28 L420.0,389.23 L421.0,387.19 L422.0,385.16 L423.0,383.13 L424.0,381.11 L425.0,379.09 L426.0,377.08 L427.0,375.07 L428.0,373.07 L429.0,371.08 L430.0,369.09 L431.0,367.11 L432.0,365.13 L433.0,363.16 L434.0,361.19 L435.0,359.23 L436.0,357.28 L437.0,355.33 L438.0,353.38 L439.0,351.44 L440.0,349.51 L441.0,347.59 L442.0,345.66 L443.0,343.75 L444.0,341.84 L445.0,339.93 L446.0,338.03 L447.0,336.14 L448.0,334.25 L449.0,332.37 L450.0,330.49 L451.0,328.62 L452.0,326.76 L453.0,324.90 L454.0,323.04 L455.0,321.19 L456.0,319.35 L457.0,317.51 L458.0,315.68 L459.0,313.85 L460.0,312.03 L461.0,310.22 L462.0,308.41 L463.0,306.61 L464.0,304.81 L465.0,303.01 L466.0,301.23 L467.0,299.45 L468.0,297.67 L469.0,295.90 L470.0,294.14 L471.0,292.38 L472.0,290.62 L473.0,288.88 L474.0,287.13 L475.0,285.40 L476.0,283.67 L477.0,281.94 L478.0,280.22 L479.0,278.51 L480.0,276.80 L481.0,275.09 L482.0,273.40 L483.0,271.70 L484.0,270.02 L485.0,268.34 L486.0,266.66 L487.0,264.99 L488.0,263.33 L489.0,261.67 L490.0,260.02 L491.0,258.37 L492.0,256.73 L493.0,255.09 L494.0,253.46 L495.0,251.84 L496.0,250.22 L497.0,248.61 L498.0,247.00 L499.0,245.40 L500.0,243.80 L501.0,242.21 L502.0,240.62 L503.0,239.04 L504.0,237.47 L505.0,235.90 L506.0,234.34 L507.0,232.78 L508.0,231.23 L509.0,229.68 L510.0,228.14 L511.0,226.61 L512.0,225.08 L513.0,223.56 L514.0,222.04 L515.0,220.52 L516.0,219.02 L517.0,217.52 L518.0,216.02 L519.0,214.53 L520.0,213.05 L521.0,211.57 L522.0,210.09 L523.0,208.63 L524.0,207.16 L525.0,205.71 L526.0,204.26 L527.0,202.81 L528.0,201.37 L529.0,199.94 L530.0,198.51 L531.0,197.09 L532.0,195.67 L533.0,194.26 L534.0,192.85 L535.0,191.45 L536.0,190.05 L537.0,188.67 L538.0,187.28 L539.0,185.90 L540.0,184.53 L541.0,183.16 L542.0,181.80 L543.0,180.45 L544.0,179.10 L545.0,177.75 L546.0,176.41 L547.0,175.08 L548.0,173.75 L549.0,172.43 L550.0,171.11 L551.0,169.80 L552.0,168.50 L553.0,167.20 L554.0,165.90 L555.0,164.62 L556.0,163.33 L557.0,162.06 L558.0,160.78 L559.0,159.52 L560.0,158.26 L561.0,157.00 L562.0,155.75 L563.0,154.51 L564.0,153.27 L565.0,152.04 L566.0,150.81 L567.0,149.59 L568.0,148.38 L569.0,147.17 L570.0,145.96 L571.0,144.76 L572.0,143.57 L573.0,142.38 L574.0,141.20 L575.0,140.02 L576.0,138.85 L577.0,137.69 L578.0,136.53 L579.0,135.37 L580.0,134.22 L581.0,133.08 L582.0,131.94 L583.0,130.81 L584.0,129.69 L585.0,128.57 L586.0,127.45 L587.0,126.34 L588.0,125.24 L589.0,124.14 L590.0,123.05 L591.0,121.96 L592.0,120.88 L593.0,119.80 L594.0,118.73 L595.0,117.67 L596.0,116.61 L597.0,115.56 L598.0,114.51 L599.0,113.47 L600.0,112.43 L601.0,111.40 L602.0,110.38 L603.0,109.36 L604.0,108.34 L605.0,107.33 L606.0,106.33 L607.0,105.33 L608.0,104.34 L609.0,103.36 L610.0,102.38 L611.0,101.40 L612.0,100.43 L613.0,99.47 L614.0,98.51 L615.0,97.56 L616.0,96.61 L617.0,95.67 L618.0,94.74 L619.0,93.81 L620.0,92.88 L621.0,91.96 L622.0,91.05 L623.0,90.14 L624.0,89.24 L625.0,88.34 L626.0,87.45 L627.0,86.57 L628.0,85.69 L629.0,84.81 L630.0,83.95 L631.0,83.08 L632.0,82.23 L633.0,81.37 L634.0,80.53 L635.0,79.69 L636.0,78.85 L637.0,78.02 L638.0,77.20 L639.0,76.38 L640.0,75.57 L641.0,74.76 L642.0,73.96 L643.0,73.17 L644.0,72.38 L645.0,71.59 L646.0,70.81 L647.0,70.04 L648.0,69.27 L649.0,68.51 L650.0,67.76 L651.0,67.00 L652.0,66.26 L653.0,65.52 L654.0,64.79 L655.0,64.06 L656.0,63.34 L657.0,62.62 L658.0,61.91 L659.0,61.20 L660.0,60.50 L661.0,59.81 L662.0,59.12 L663.0,58.43 L664.0,57.76 L665.0,57.08 L666.0,56.42 L667.0,55.76 L668.0,55.10 L669.0,54.45 L670.0,53.81 L671.0,53.17 L672.0,52.53 L673.0,51.91 L674.0,51.29 L675.0,50.67 L676.0,50.06 L677.0,49.45 L678.0,48.85 L679.0,48.26 L680.0,47.67 L681.0,47.09 L682.0,46.51 L683.0,45.94 L684.0,45.38 L685.0,44.82 L686.0,44.26 L687.0,43.71 L688.0,43.17 L689.0,42.63 L690.0,42.10 L691.0,41.57 L692.0,41.05 L693.0,40.54 L694.0,40.03 L695.0,39.52 L696.0,39.02 L697.0,38.53 L698.0,38.04 L699.0,37.56 L700.0,37.08 L701.0,36.61 L702.0,36.15 L703.0,35.69 L704.0,35.24 L705.0,34.79 L706.0,34.34 L707.0,33.91 L708.0,33.48 L709.0,33.05 L710.0,32.63 L711.0,32.22 L712.0,31.81 L713.0,31.40 L714.0,31.01 L715.0,30.61 L716.0,30.23 L717.0,29.85 L718.0,29.47 L719.0,29.10 L720.0,28.74 L721.0,28.38 L722.0,28.03 L723.0,27.68 L724.0,27.34 L725.0,27.00 L726.0,26.67 L727.0,26.35 L728.0,26.03 L729.0,25.71 L730.0,25.40 L731.0,25.10 L732.0,24.80 L733.0,24.51 L734.0,24.23 L735.0,23.95 L736.0,23.67 L737.0,23.40 L738.0,23.14 L739.0,22.88 L740.0,22.63 L741.0,22.38 L742.0,22.14 L743.0,21.91 L744.0,21.68 L745.0,21.45 L746.0,21.24 L747.0,21.02 L748.0,20.82 L749.0,20.61 L750.0,20.42 L751.0,20.23 L752.0,20.04 L753.0,19.86 L754.0,19.69 L755.0,19.52 L756.0,19.36 L757.0,19.20 L758.0,19.05 L759.0,18.91 L760.0,18.77 L761.0,18.63 L762.0,18.50 L763.0,18.38 L764.0,18.26 L765.0,18.15 L766.0,18.04 L767.0,17.94 L768.0,17.85 L769.0,17.76 L770.0,17.67 L771.0,17.59 L772.0,17.52 L773.0,17.45 L774.0,17.39 L775.0,17.34 L776.0,17.29 L777.0,17.24 L778.0,17.20 L779.0,17.17 L780.0,17.14 L781.0,17.12 L782.0,17.10 L783.0,17.09 L784.0,17.08 L785.0,17.08 L786.0,17.09" stroke="#000000" stroke-width="3.0" stroke-dasharray="8.438 0.6" stroke-dashoffset="3.602"/>
</g>
<!-- ticks -->
<g stroke="#000" stroke-width="2.6" fill="none">
<path d="M84.5,540.5V533.4 M259.5,540.5V533.4 M434.5,540.5V533.4 M609.5,540.5V533.4 M784.5,540.5V533.4"/>
<path d="M84.5,46.7H91.4 M84.5,145.5H91.4 M84.5,244.2H91.4 M84.5,343H91.4 M84.5,441.7H91.4 M84.5,540.5H91.4"/>
</g>
<rect x="84.5" y="17.4" width="700" height="523.1" fill="none" stroke="#000" stroke-width="3.3"/>
<!-- x tick labels -->
<g class="tk">
<text x="63.3" y="575.3" textLength="42" lengthAdjust="spacingAndGlyphs">-1.6</text>
<text x="238.4" y="575.3" textLength="42" lengthAdjust="spacingAndGlyphs">-1.2</text>
<text x="412.8" y="575.3" textLength="42" lengthAdjust="spacingAndGlyphs">-0.8</text>
<text x="588.4" y="575.3" textLength="42.4" lengthAdjust="spacingAndGlyphs">-0.4</text>
<text x="778.4" y="575.3" textLength="12.6" lengthAdjust="spacingAndGlyphs">0</text>
</g>
<!-- y tick labels -->
<g id="ylabels">
<text class="tk" x="42.2" y="53.9" textLength="26" lengthAdjust="spacingAndGlyphs">10</text><text class="sup" x="68.6" y="46.0" textLength="9.6" lengthAdjust="spacingAndGlyphs">0</text>
<text class="tk" x="36.2" y="152.7" textLength="26" lengthAdjust="spacingAndGlyphs">10</text><text class="sup" x="62.8" y="144.8" textLength="15.2" lengthAdjust="spacingAndGlyphs">-1</text>
<text class="tk" x="36.2" y="251.4" textLength="26" lengthAdjust="spacingAndGlyphs">10</text><text class="sup" x="62.8" y="243.5" textLength="15.2" lengthAdjust="spacingAndGlyphs">-2</text>
<text class="tk" x="36.2" y="350.2" textLength="26" lengthAdjust="spacingAndGlyphs">10</text><text class="sup" x="62.8" y="342.3" textLength="15.2" lengthAdjust="spacingAndGlyphs">-3</text>
<text class="tk" x="36.2" y="448.9" textLength="26" lengthAdjust="spacingAndGlyphs">10</text><text class="sup" x="62.8" y="441.0" textLength="15.2" lengthAdjust="spacingAndGlyphs">-4</text>
<text class="tk" x="36.2" y="547.7" textLength="26" lengthAdjust="spacingAndGlyphs">10</text><text class="sup" x="62.8" y="539.8" textLength="15.2" lengthAdjust="spacingAndGlyphs">-5</text>
</g>
<!-- axis labels -->
<text class="lg" style="font-size:24.7px" x="429.4" y="603.8" textLength="14.4" lengthAdjust="spacingAndGlyphs">S</text>
<g transform="translate(20.0,304.6) rotate(-90)">
<text class="lg" style="font-size:22px" x="0.9" y="0" textLength="16.6" lengthAdjust="spacingAndGlyphs">P</text>
<text class="lg" style="font-size:22px" x="20.3" y="0" textLength="16.2" lengthAdjust="spacingAndGlyphs">D</text>
<text class="lg" style="font-size:22px" x="38.0" y="0" textLength="16.6" lengthAdjust="spacingAndGlyphs">F</text>
</g>
<!-- legend -->
<g fill="none">
<path d="M491.8,369.3H555.8" stroke="#ea2e1f" stroke-width="3.7"/>
<path d="M496.2,401.4H551.3" stroke="#4090c8" stroke-width="3.7" stroke-dasharray="15.7 3.95"/>
<path d="M495.25,433.4H553" stroke="#5cb85a" stroke-width="3.65" stroke-linecap="round" stroke-dasharray="0.01 5.745"/>
<path d="M491.8,465.1H555.8" stroke="#a966b8" stroke-width="3.7" stroke-dasharray="15.7 2.7 3.2 2.5"/>
<path d="M492.1,497.3H555.6" stroke="#000" stroke-width="3.0" stroke-dasharray="8.25 0.8"/>
</g>
<g id="legtext">
<path d="M597.3,363.9L582.3,370.9L597.3,377.9" fill="none" stroke="#000" stroke-width="1.3" stroke-linejoin="miter"/>
<text class="lg" style="stroke-width:0.65px" x="599.5" y="376.5" textLength="17.4" lengthAdjust="spacingAndGlyphs">N</text>
<path d="M620.2,363.9L637.2,370.9L620.2,377.9" fill="none" stroke="#000" stroke-width="1.3" stroke-linejoin="miter"/>
<path d="M650.8,368.3H667.8M650.8,373.5H667.8" fill="none" stroke="#000" stroke-width="1.3"/>
<text class="lg" x="679.9" y="376.5" textLength="11.6" lengthAdjust="spacingAndGlyphs">5</text>
<path d="M597.3,395.9L582.3,402.9L597.3,409.9" fill="none" stroke="#000" stroke-width="1.3" stroke-linejoin="miter"/>
<text class="lg" style="stroke-width:0.65px" x="599.5" y="408.5" textLength="17.4" lengthAdjust="spacingAndGlyphs">N</text>
<path d="M620.2,395.9L637.2,402.9L620.2,409.9" fill="none" stroke="#000" stroke-width="1.3" stroke-linejoin="miter"/>
<path d="M650.8,400.3H667.8M650.8,405.5H667.8" fill="none" stroke="#000" stroke-width="1.3"/>
<text class="lg" x="679.9" y="408.5" textLength="24.6" lengthAdjust="spacingAndGlyphs">10</text>
<path d="M597.3,428.1L582.3,435.1L597.3,442.1" fill="none" stroke="#000" stroke-width="1.3" stroke-linejoin="miter"/>
<text class="lg" style="stroke-width:0.65px" x="599.5" y="440.7" textLength="17.4" lengthAdjust="spacingAndGlyphs">N</text>
<path d="M620.2,428.1L637.2,435.1L620.2,442.1" fill="none" stroke="#000" stroke-width="1.3" stroke-linejoin="miter"/>
<path d="M650.8,432.5H667.8M650.8,437.7H667.8" fill="none" stroke="#000" stroke-width="1.3"/>
<text class="lg" x="679.9" y="440.7" textLength="26" lengthAdjust="spacingAndGlyphs">20</text>
<path d="M597.3,460.1L582.3,467.1L597.3,474.1" fill="none" stroke="#000" stroke-width="1.3" stroke-linejoin="miter"/>
<text class="lg" style="stroke-width:0.65px" x="599.5" y="472.7" textLength="17.4" lengthAdjust="spacingAndGlyphs">N</text>
<path d="M620.2,460.1L637.2,467.1L620.2,474.1" fill="none" stroke="#000" stroke-width="1.3" stroke-linejoin="miter"/>
<path d="M650.8,464.5H667.8M650.8,469.7H667.8" fill="none" stroke="#000" stroke-width="1.3"/>
<text class="lg" x="679.9" y="472.7" textLength="26" lengthAdjust="spacingAndGlyphs">50</text>
<g transform="translate(581.4,504.3) scale(1.12,1)">
<text class="lg" x="-0.09 14.73 27.59 42.41 52.86 63.48 70.00 82.32" y="0">Gaussian</text>
<text class="lg" x="101.61 114.11 126.70 132.23" y="0">only</text>
</g>
</g>
</svg>
</body>
</html>
